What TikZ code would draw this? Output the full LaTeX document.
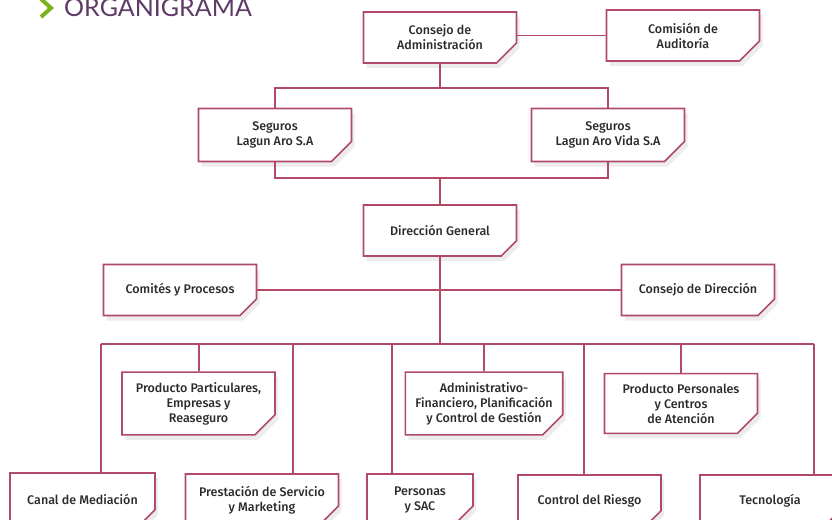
\documentclass[tikz,border=0pt]{standalone}
\usepackage{fontspec}
\setmainfont{Fira Sans}[BoldFont={Fira Sans Medium}]
\newfontfamily\titlefont{Lato}
\usetikzlibrary{shapes.misc,shadows}

\definecolor{orgline}{HTML}{B04A66}
\definecolor{orgpurple}{HTML}{5E3A66}
\definecolor{orggreen}{HTML}{7AB51D}
\definecolor{orgtext}{HTML}{2B2B2B}

\tikzset{
  orgbox/.style={chamfered rectangle, chamfered rectangle corners=south east,
    chamfered rectangle xsep=10pt, chamfered rectangle ysep=10pt,
    draw=orgline, line width=1.6pt, fill=white, text=orgtext, align=center,
    font=\bfseries\fontsize{12.5}{15}\selectfont, inner sep=0pt,
    minimum width=153pt, minimum height=51pt,
    drop shadow={opacity=0.15, shadow xshift=3pt, shadow yshift=-5pt}},
  link/.style={draw=orgline, line width=1.6pt}
}

\begin{document}
\begin{tikzpicture}[x=1pt,y=-1pt]
            \useasboundingbox (0,0) rectangle (832,519);
            \clip (0,0) rectangle (832,519);

            % Title
            \draw[orggreen, line width=4pt] (41,-1) -- (51,8) -- (41,17);
            \node[anchor=base west, inner sep=0pt, text=orgpurple, font=\titlefont\fontsize{25}{25}\selectfont] (title) at (64,17) {ORGANIGRAMA};

            % Boxes
            \node[orgbox] (cadm) at (440,37.5) {Consejo de\\Administración};
            \node[orgbox] (caud) at (683,35.5) {Comisión de\\Auditoría};
            \node[orgbox, minimum height=53pt] (slar) at (275,135) {Seguros\\Lagun Aro S.A};
            \node[orgbox, minimum height=53pt] (slav) at (608,135) {Seguros\\Lagun Aro Vida S.A};
            \node[orgbox] (dgen) at (440,230.5) {Dirección General};
            \node[orgbox] (comi) at (180,290) {Comités y Procesos};
            \node[orgbox] (cdir) at (698,290) {Consejo de Dirección};

            \node[orgbox] (ppar) at (198.5,403.5) {Producto Particulares,\\Empresas y\\Reaseguro};
            \node[orgbox] (admi) at (484,403.5) {Administrativo-\\Financiero, Planificación\\y Control de Gestión};
            \node[orgbox, minimum height=53pt] (ppers) at (681,403.5) {Producto Personales\\y Centros\\de Atención};

            \node[orgbox, minimum width=145pt, minimum height=52pt] (cmed) at (82.5,499) {Canal de Mediación};
            \node[orgbox, minimum height=52pt] (pser) at (262,500) {Prestación de Servicio\\y Marketing};
            \node[orgbox, minimum width=106pt, minimum height=52pt] (pers) at (420,500) {Personas\\y SAC};
            \node[orgbox, minimum width=143pt, minimum height=52pt] (crie) at (589.5,501) {Control del Riesgo};
            \node[orgbox, minimum width=140pt, minimum height=52pt] (tecn) at (770,501) {Tecnología};

            % Lines
            \draw[link] (caud.west) -- (caud.west -| cadm.east);

            \coordinate (top) at (440,88);
            \draw[link] (cadm.south) -- (top);
            \draw[link] (slar.north) |- (top) -| (slav.north);

            \coordinate (mid) at (440,178);
            \draw[link] (slar.south) |- (mid) -| (slav.south);
            \draw[link] (mid) -- (dgen.north);

            \draw[link] (comi.east) -- (cdir.west);

            % Bottom bar and drops
            \foreach \x/\n in {101/cmed,199/ppar,293/pser,392/pers,484/admi,584/crie,681/ppers,814/tecn}{
              \coordinate (d\n) at (\x,344);
              \draw[link] (d\n) -- (d\n |- \n.north);
            }
            \draw[link] (dcmed) -- (dtecn);
            \draw[link] (dgen.south) -- (dgen.south |- dcmed);

        \end{tikzpicture}
\end{document}
